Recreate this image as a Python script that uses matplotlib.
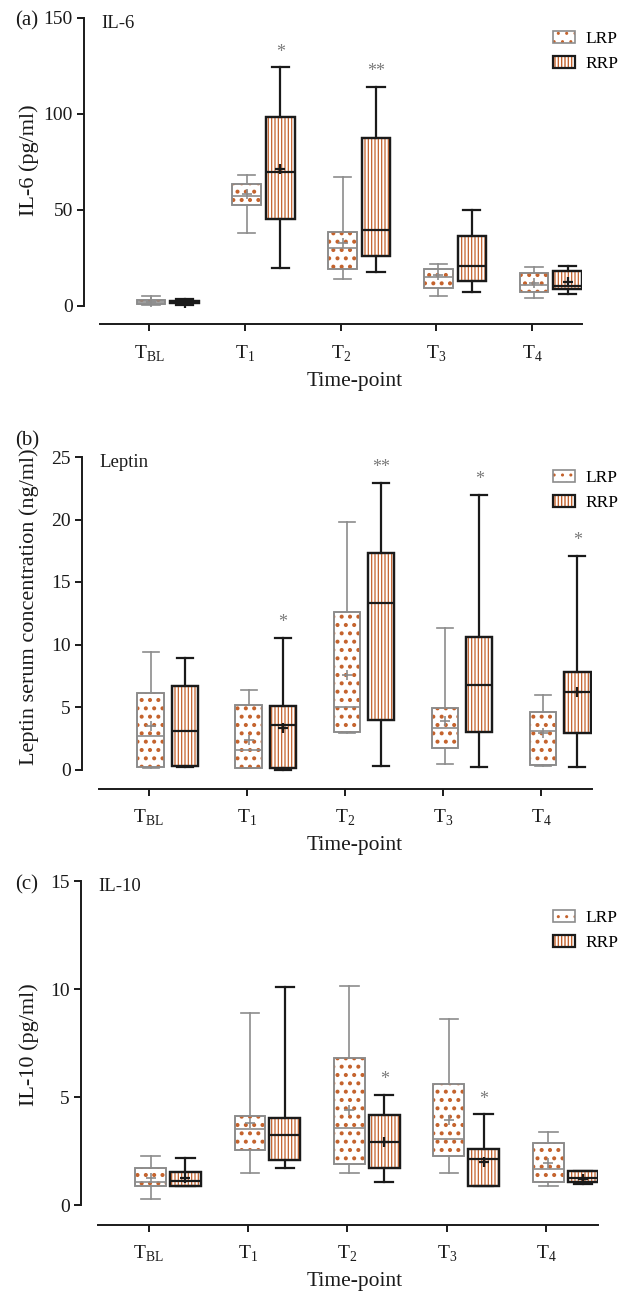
import numpy as np
import matplotlib
matplotlib.use('Agg')
import matplotlib.pyplot as plt
from matplotlib.patches import Patch, PathPatch
from matplotlib.legend_handler import HandlerTuple

plt.rcParams['font.family'] = ['Liberation Serif', 'DejaVu Serif']
plt.rcParams['mathtext.fontset'] = 'custom'
plt.rcParams['mathtext.rm'] = 'Liberation Serif'

# ---------------- data ----------------
timepoints = [r'T$_\mathregular{BL}$', r'T$_\mathregular{1}$', r'T$_\mathregular{2}$',
              r'T$_\mathregular{3}$', r'T$_\mathregular{4}$']
series_names = ['LRP', 'RRP']
stat_fields = ['whislo', 'q1', 'med', 'q3', 'whishi', 'mean']

# rows: [whisker low, Q1, median, Q3, whisker high, mean]
il6_lrp = [[0.5, 1.1, 2.0, 3.1, 5.2, 2.2],
           [38.2, 52.4, 57.5, 63.4, 68.4, 58.3],
           [13.9, 19.1, 30.0, 38.4, 67.0, 32.8],
           [5.4, 9.2, 15.0, 19.1, 21.7, 16.0],
           [4.3, 7.3, 11.0, 17.4, 20.3, 11.8]]
il6_rrp = [[0.5, 1.4, 2.0, 2.6, 3.8, 1.5],
           [19.8, 45.3, 69.8, 98.3, 124.3, 71.2],
           [17.5, 26.0, 39.6, 87.7, 114.2, np.nan],
           [7.3, 13.0, 20.8, 36.5, 50.0, np.nan],
           [6.1, 9.0, 10.4, 18.2, 21.0, 12.7]]
il6_stars = ['', '*', '**', '', '']

leptin_lrp = [[0.15, 0.2, 2.7, 6.1, 9.4, 3.5],
              [0.1, 0.15, 1.6, 5.2, 6.4, 2.4],
              [2.9, 3.0, 5.0, 12.6, 19.8, 7.6],
              [0.45, 1.7, 3.3, 4.9, 11.35, 3.9],
              [0.3, 0.4, 3.1, 4.6, 6.0, 2.9]]
leptin_rrp = [[0.2, 0.25, 3.1, 6.7, 8.95, np.nan],
              [0.0, 0.15, 3.55, 5.1, 10.5, 3.3],
              [0.3, 4.0, 13.3, 17.3, 22.9, np.nan],
              [0.2, 3.0, 6.8, 10.6, 22.0, np.nan],
              [0.2, 2.9, 6.2, 7.8, 17.1, 6.2]]
leptin_stars = ['', '*', '**', '*', '*']

il10_lrp = [[0.28, 0.88, 1.08, 1.7, 2.27, 1.23],
            [1.5, 2.55, 3.53, 4.13, 8.9, 3.78],
            [1.5, 1.88, 3.55, 6.79, 10.14, 4.4],
            [1.5, 2.27, 3.04, 5.59, 8.6, 3.94],
            [0.9, 1.05, 1.65, 2.89, 3.37, 1.93]]
il10_rrp = [[0.88, 0.88, 1.11, 1.53, 2.19, 1.26],
            [1.7, 2.1, 3.24, 4.04, 10.1, np.nan],
            [1.08, 1.7, 2.9, 4.17, 5.09, 2.93],
            [0.88, 0.88, 2.13, 2.59, 4.2, 1.97],
            [0.96, 1.05, 1.26, 1.57, 1.57, 1.2]]
il10_stars = ['', '', '*', '*', '']

panel_letters = ['(a)', '(b)', '(c)']
panel_titles = ['IL-6', 'Leptin', 'IL-10']
y_labels = ['IL-6 (pg/ml)', 'Leptin serum concentration (ng/ml)', 'IL-10 (pg/ml)']
y_ticks = [[0, 50, 100, 150], [0, 5, 10, 15, 20, 25], [0, 5, 10, 15]]
x_label = 'Time-point'

# ---------------- style / layout ----------------
W, H = 635, 1292
DPI = 100
HATCH_COLOR = '#c4622c'
GRAY = '#8c8c8c'
BLACK = '#1a1a1a'

# left, right, top(px of ymax), zero(px of 0), axis line px, box width
layouts = [(84, 582, 18, 306, 324, 0.30),
           (82, 592, 457, 769.5, 788.7, 0.27),
           (81, 598, 881, 1205, 1224.7, 0.31)]
letter_y = [21, 441, 885]
ylabel_y = [160, 607, 1045]
legend_top = [31, 470, 910]
XLIM = (-0.68, 4.52)
LRP_OFF, RRP_OFF = 0.02, 0.37

fig = plt.figure(figsize=(W / DPI, H / DPI), dpi=DPI)


def fxy(px, py):
    return px / W, 1 - py / H


def add_hatch_layer(ax, box, hatch, hlw, edge, lw):
    with plt.rc_context({'hatch.linewidth': hlw}):
        hp = PathPatch(box.get_path(), transform=box.get_transform(), facecolor='none',
                       edgecolor=HATCH_COLOR, hatch=hatch, linewidth=0, zorder=2.05)
    if hasattr(hp, 'set_hatch_linewidth'):
        hp.set_hatch_linewidth(hlw)
    ax.add_patch(hp)
    op = PathPatch(box.get_path(), transform=box.get_transform(), facecolor='none',
                   edgecolor=edge, linewidth=lw, zorder=2.1)
    ax.add_patch(op)


def draw_series(ax, rows, offset, width, edge, lw, hatch, hlw):
    stats = []
    for r in rows:
        d = dict(zip(stat_fields, r))
        d['fliers'] = []
        stats.append(d)
    pos = np.arange(len(rows)) + offset
    art = ax.bxp(stats, positions=pos, widths=width, capwidths=width * 0.6,
                 patch_artist=True, showmeans=True, showfliers=False,
                 boxprops=dict(facecolor='white', edgecolor=edge, linewidth=lw),
                 whiskerprops=dict(color=edge, linewidth=lw),
                 capprops=dict(color=edge, linewidth=lw),
                 medianprops=dict(color=edge, linewidth=lw),
                 meanprops=dict(marker='+', markeredgecolor=edge, markerfacecolor=edge,
                                markersize=7, markeredgewidth=lw, linestyle='none'))
    for b in art['boxes']:
        b.set_zorder(2)
        add_hatch_layer(ax, b, hatch, hlw, edge, lw)
    for key in ('medians', 'means'):
        for l in art[key]:
            l.set_zorder(3)
    return pos


def legend_handle(hatch, hlw, edge, lw):
    with plt.rc_context({'hatch.linewidth': hlw}):
        hp = Patch(facecolor='white', edgecolor=HATCH_COLOR, hatch=hatch, linewidth=0)
    if hasattr(hp, 'set_hatch_linewidth'):
        hp.set_hatch_linewidth(hlw)
    op = Patch(facecolor='none', edgecolor=edge, linewidth=lw)
    return (hp, op)


panel_data = [(il6_lrp, il6_rrp, il6_stars),
              (leptin_lrp, leptin_rrp, leptin_stars),
              (il10_lrp, il10_rrp, il10_stars)]

for k, ((lrp, rrp, stars), (left, right, top, zero, axis_px, bw)) in enumerate(zip(panel_data, layouts)):
    ymax = y_ticks[k][-1]
    ppu = (zero - top) / ymax
    ylow = -(axis_px - zero) / ppu
    x0, y0 = fxy(left, axis_px)
    ax = fig.add_axes([x0, y0, (right - left) / W, (axis_px - top) / H])

    draw_series(ax, lrp, LRP_OFF, bw, GRAY, 1.2, '..', 1.7)
    rpos = draw_series(ax, rrp, RRP_OFF, bw, BLACK, 1.6, '|||||', 0.9)

    for i, s in enumerate(stars):
        if s:
            ax.annotate(s, xy=(rpos[i], rrp[i][4]), xytext=(0, 11), textcoords='offset points',
                        ha='center', va='center', color='#7a7a7a', fontsize=13)

    ax.set_xlim(*XLIM)
    ax.set_ylim(ylow, ymax)
    for sp in ('top', 'right'):
        ax.spines[sp].set_visible(False)
    ax.spines['left'].set_bounds(0, ymax)
    ax.spines['bottom'].set_bounds(-0.51, XLIM[1])
    for sp in ('left', 'bottom'):
        ax.spines[sp].set_linewidth(1.4)
        ax.spines[sp].set_color(BLACK)
    ax.set_yticks(y_ticks[k])
    ax.set_xticks(np.arange(len(timepoints)))
    ax.set_xticklabels(timepoints)
    ax.tick_params(axis='both', direction='out', length=5, width=1.4, color=BLACK,
                   labelsize=14, labelcolor=BLACK)
    ax.tick_params(axis='y', pad=3)
    ax.tick_params(axis='x', pad=9)
    ax.patch.set_alpha(0)

    # panel title inside axes
    ax.annotate(panel_titles[k], xy=(0.034, 1.0), xycoords='axes fraction',
                xytext=(0, -4), textcoords='offset points', ha='left', va='center',
                fontsize=13.5, color=BLACK)

    # legend
    handles = [legend_handle('..', 1.7, GRAY, 1.2), legend_handle('|||||', 0.9, BLACK, 1.6)]
    lx, ly = fxy(553, legend_top[k])
    ax.legend(handles, series_names, handler_map={tuple: HandlerTuple(ndivide=1, pad=0)},
              loc='upper left', bbox_to_anchor=(lx, ly), bbox_transform=fig.transFigure,
              frameon=False, fontsize=12.5, handlelength=1.27, handleheight=0.7,
              handletextpad=0.6, labelspacing=0.5, borderpad=0, borderaxespad=0)

    # letters, labels
    fig.text(*fxy(27, letter_y[k]), panel_letters[k], ha='center', va='center', fontsize=15, color=BLACK)
    fig.text(*fxy(29, ylabel_y[k]), y_labels[k], rotation=90, ha='center', va='center',
             fontsize=16, color=BLACK)
    fig.text(*fxy(355, axis_px + 57), x_label, ha='center', va='center', fontsize=15.5, color=BLACK)

fig.savefig('out.png', dpi=DPI)
